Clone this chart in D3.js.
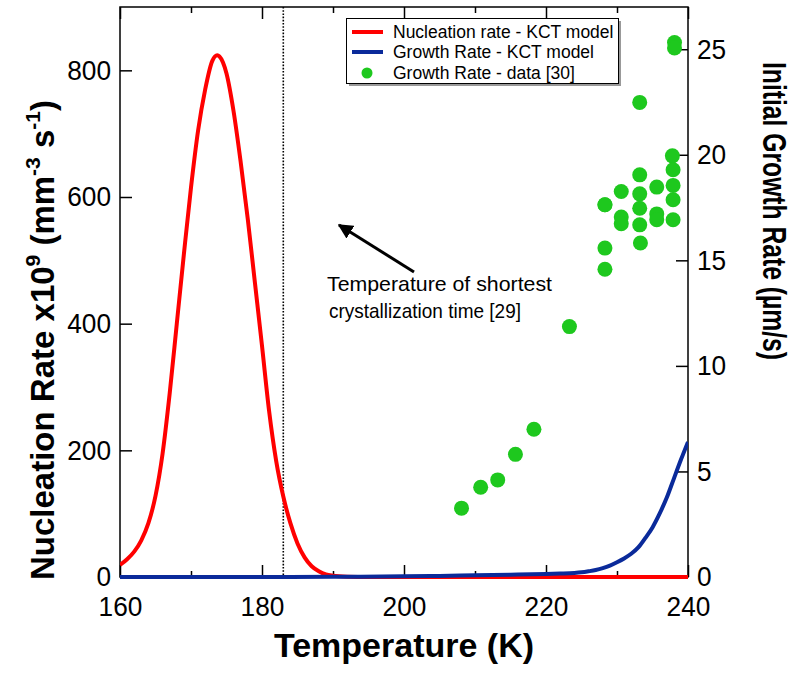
<!DOCTYPE html>
<html>
<head>
<meta charset="utf-8">
<script src="https://cdn.jsdelivr.net/npm/d3@7"></script>
<style>
  html, body { margin: 0; padding: 0; background: #fff; }
  svg { display: block; }
  text { font-family: Arial, "Liberation Sans", Helvetica, sans-serif; fill: #000; }
</style>
</head>
<body>
<svg id="chart" width="800" height="673"></svg>
<script>
// ---------------- data ----------------
// Nucleation rate (x10^9 mm^-3 s^-1), KCT model
const nucT = [160,161,162,163,164,165,166,167,168,169,170,171,172,173,173.7,174,175,176,177,178,179,180,181,182,183,184,185,186,187,188,189,190,192,195,200,220,240];
const nucV = [19,28,40,58,85,128,195,290,400,510,615,705,770,815,824,822,795,735,655,565,465,365,262,183,127,85,53,31,17,9,4,2,0.5,0,0,0,0];

// Growth rate (um/s), KCT model
const growT = [160,180,190,200,205,210,215,220,222,224,225,226,227,228,229,230,231,232,233,234,235,236,237,238,239,240];
const growV = [0,0,0.01,0.03,0.05,0.08,0.11,0.14,0.16,0.19,0.22,0.27,0.33,0.42,0.54,0.70,0.88,1.10,1.40,1.85,2.35,3.00,3.75,4.65,5.55,6.40];

// Growth rate data [30] (um/s)
const dataT = [208.1,210.8,213.2,215.7,218.3,223.3,228.3,228.3,228.3,228.3,230.6,230.6,230.6,233.2,233.2,233.2,233.2,233.3,233.2,235.6,235.6,235.6,237.8,237.9,237.9,237.9,237.9,238.1,238.1];
const dataV = [3.26,4.25,4.60,5.81,7.00,11.86,14.58,15.58,17.63,17.63,18.26,17.05,16.73,22.48,19.05,18.15,17.47,15.82,16.68,18.47,17.20,16.92,19.95,19.29,18.55,17.87,16.92,25.32,25.06];

const xMajor = [160,180,200,220,240];
const xMinor = [170,190,210,230];
const yLeftTicks = [0,200,400,600,800];
const yRightTicks = [0,5,10,15,20,25];
const shortestT = 183;

const legendLabels = ["Nucleation rate - KCT model", "Growth Rate - KCT model", "Growth Rate - data [30]"];

// ---------------- layout ----------------
const L = 120, R = 688, T = 7, B = 577;
const RED = "#ff0000", BLUE = "#0a2a9a", GREEN = "#1ec81e";
const FONT = "Arial, 'Liberation Sans', sans-serif";

const svg = d3.select("#chart");
const x = d3.scaleLinear().domain([160, 240]).range([L, R]);
const yL = d3.scaleLinear().domain([0, 900]).range([B, T]);
const yR = d3.scaleLinear().domain([0, 27]).range([B, T]);

svg.append("defs").append("clipPath").attr("id", "clip")
  .append("rect").attr("x", L).attr("y", T).attr("width", R - L).attr("height", B - T + 3);

// ---------------- axes & frame (under the curves) ----------------
const axStyle = g => {
  g.select(".domain").remove();
  g.selectAll(".tick line").attr("stroke", "#000").attr("stroke-width", 1.5);
};
const labelStyle = g => g.selectAll("text")
  .attr("font-size", 28).attr("font-family", FONT).attr("fill", "#000")
  .attr("textLength", function () { return this.textContent.length * 14.6; })
  .attr("lengthAdjust", "spacingAndGlyphs");

svg.append("rect").attr("x", L).attr("y", T).attr("width", R - L).attr("height", B - T)
  .attr("fill", "none").attr("stroke", "#000").attr("stroke-width", 1.5);

// bottom
svg.append("g").attr("transform", `translate(0,${B})`)
  .call(d3.axisBottom(x).tickValues(xMajor).tickSize(-12).tickPadding(19).tickFormat(d3.format("d")))
  .call(axStyle).call(labelStyle);
svg.append("g").attr("transform", `translate(0,${B})`)
  .call(d3.axisBottom(x).tickValues(xMinor).tickSize(-6).tickFormat(""))
  .call(axStyle);
// top
svg.append("g").attr("transform", `translate(0,${T})`)
  .call(d3.axisTop(x).tickValues(xMajor).tickSize(-12).tickFormat(""))
  .call(axStyle);
svg.append("g").attr("transform", `translate(0,${T})`)
  .call(d3.axisTop(x).tickValues(xMinor).tickSize(-6).tickFormat(""))
  .call(axStyle);
// left
svg.append("g").attr("transform", `translate(${L},0)`)
  .call(d3.axisLeft(yL).tickValues(yLeftTicks).tickSize(-12).tickPadding(9).tickFormat(d3.format("d")))
  .call(axStyle).call(labelStyle);
// right
svg.append("g").attr("transform", `translate(${R},0)`)
  .call(d3.axisRight(yR).tickValues(yRightTicks).tickSize(-12).tickPadding(9).tickFormat(d3.format("d")))
  .call(axStyle).call(labelStyle);

// dotted vertical line
svg.append("line")
  .attr("x1", x(shortestT)).attr("x2", x(shortestT))
  .attr("y1", T).attr("y2", B)
  .attr("stroke", "#000").attr("stroke-width", 1.6)
  .attr("stroke-dasharray", "1.6,1.6");

const plot = svg.append("g").attr("clip-path", "url(#clip)");

// nucleation curve (left axis)
plot.append("path")
  .datum(nucT.map((t, i) => [t, nucV[i]]))
  .attr("fill", "none").attr("stroke", RED).attr("stroke-width", 4)
  .attr("stroke-linejoin", "round")
  .attr("d", d3.line().curve(d3.curveMonotoneX).x(d => x(d[0])).y(d => yL(d[1])));

// growth curve (right axis)
plot.append("path")
  .datum(growT.map((t, i) => [t, growV[i]]))
  .attr("fill", "none").attr("stroke", BLUE).attr("stroke-width", 4)
  .attr("stroke-linejoin", "round")
  .attr("d", d3.line().curve(d3.curveMonotoneX).x(d => x(d[0])).y(d => yR(d[1])));

// data points
svg.append("g").selectAll("circle")
  .data(dataT.map((t, i) => [t, dataV[i]]))
  .join("circle")
  .attr("cx", d => x(d[0])).attr("cy", d => yR(d[1]))
  .attr("r", 7.5).attr("fill", GREEN);

// ---------------- titles ----------------
svg.append("text").attr("x", (L + R) / 2).attr("y", 657)
  .attr("text-anchor", "middle").attr("font-size", 34).attr("font-weight", "bold")
  .text("Temperature (K)");

const lt = svg.append("text")
  .attr("transform", "translate(54,340) rotate(-90)")
  .attr("text-anchor", "middle").attr("font-size", 33).attr("font-weight", "bold");
lt.append("tspan").text("Nucleation Rate x10");
lt.append("tspan").attr("font-size", 21).attr("dy", -14).text("9");
lt.append("tspan").attr("dy", 14).text(" (mm");
lt.append("tspan").attr("font-size", 21).attr("dy", -14).text("-3");
lt.append("tspan").attr("dy", 14).text(" s");
lt.append("tspan").attr("font-size", 21).attr("dy", -14).text("-1");
lt.append("tspan").attr("dy", 14).text(")");

svg.append("text")
  .attr("transform", "translate(763,211) rotate(90)")
  .attr("text-anchor", "middle").attr("font-size", 33).attr("font-weight", "bold")
  .attr("textLength", 298).attr("lengthAdjust", "spacingAndGlyphs")
  .text("Initial Growth Rate  (\u00b5m/s)");

// ---------------- annotation ----------------
svg.append("defs").append("marker").attr("id", "arrow")
  .attr("viewBox", "0 0 10 10").attr("refX", 9).attr("refY", 5)
  .attr("markerWidth", 5).attr("markerHeight", 5).attr("orient", "auto")
  .append("path").attr("d", "M0,0 L10,5 L0,10 Z").attr("fill", "#000");
svg.append("line")
  .attr("x1", 414).attr("y1", 272).attr("x2", 339).attr("y2", 225)
  .attr("stroke", "#000").attr("stroke-width", 3).attr("marker-end", "url(#arrow)");
svg.append("text").attr("x", 327).attr("y", 291)
  .attr("font-size", 21).attr("textLength", 225).attr("lengthAdjust", "spacingAndGlyphs")
  .text("Temperature of shortest");
svg.append("text").attr("x", 329).attr("y", 318)
  .attr("font-size", 21).attr("textLength", 192).attr("lengthAdjust", "spacingAndGlyphs")
  .text("crystallization time [29]");

// ---------------- legend ----------------
const lg = svg.append("g");
lg.append("rect").attr("x", 349).attr("y", 21).attr("width", 272).attr("height", 65).attr("fill", "#999");
lg.append("rect").attr("x", 346.5).attr("y", 18.5).attr("width", 272).attr("height", 65)
  .attr("fill", "#fff").attr("stroke", "#000").attr("stroke-width", 1);
const rowY = [32, 52, 73];
lg.append("line").attr("x1", 352).attr("x2", 383).attr("y1", rowY[0]).attr("y2", rowY[0]).attr("stroke", RED).attr("stroke-width", 4);
lg.append("line").attr("x1", 352).attr("x2", 383).attr("y1", rowY[1]).attr("y2", rowY[1]).attr("stroke", BLUE).attr("stroke-width", 4);
lg.append("circle").attr("cx", 367).attr("cy", rowY[2]).attr("r", 5.5).attr("fill", GREEN);
legendLabels.forEach((s, i) => {
  lg.append("text").attr("x", 393).attr("y", rowY[i] + 6).attr("font-size", 17.5).text(s);
});
</script>
</body>
</html>
